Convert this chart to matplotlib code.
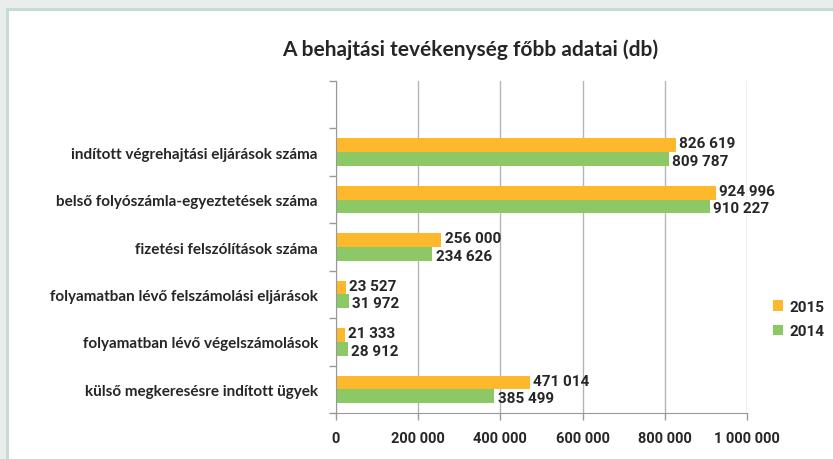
import matplotlib.pyplot as plt
import matplotlib.patches as patches
import numpy as np

plt.rcParams['font.family'] = ['Lato', 'DejaVu Sans']

categories = [
    'indított végrehajtási eljárások száma',
    'belső folyószámla-egyeztetések száma',
    'fizetési felszólítások száma',
    'folyamatban lévő felszámolási eljárások',
    'folyamatban lévő végelszámolások',
    'külső megkeresésre indított ügyek',
]
values_2015 = [826619, 924996, 256000, 23527, 21333, 471014]
values_2014 = [809787, 910227, 234626, 31972, 28912, 385499]
xticks = [0, 200000, 400000, 600000, 800000, 1000000]

ORANGE = '#FDB92B'
GREEN = '#8CC865'
TEXT = '#262626'
NUMFONT = ['Roboto', 'DejaVu Sans']


def fmt(v):
    return f'{v:,}'.replace(',', ' ')


fig = plt.figure(figsize=(8.33, 4.6), dpi=100)
fig.patch.set_facecolor('white')

# outer frame (light band + green-gray border on top and left)
fig.patches.append(patches.Rectangle((0, 1 - 9 / 460), 1, 9 / 460, transform=fig.transFigure,
                                     facecolor='#e9edeb', edgecolor='none', zorder=0))
fig.patches.append(patches.Rectangle((0, 0), 6 / 833, 1, transform=fig.transFigure,
                                     facecolor='#e9edeb', edgecolor='none', zorder=0))
fig.patches.append(patches.Rectangle((6 / 833, 1 - 12 / 460), 1, 3 / 460, transform=fig.transFigure,
                                     facecolor='#c6dbd4', edgecolor='none', zorder=1))
fig.patches.append(patches.Rectangle((6 / 833, 0), 3 / 833, 1 - 9 / 460, transform=fig.transFigure,
                                     facecolor='#c6dbd4', edgecolor='none', zorder=1))

ax = fig.add_axes([336 / 833, 46 / 460, 411 / 833, 332 / 460])

n = len(categories)
# categories top to bottom; one empty band above the first
ypos = np.arange(n)[::-1] + 0.5
h = 0.29
ax.barh(ypos + h / 2, values_2015, height=h, color=ORANGE, label='2015', zorder=2)
ax.barh(ypos - h / 2, values_2014, height=h, color=GREEN, label='2014', zorder=2)

for y, v in zip(ypos, values_2015):
    ax.text(v + 8000, y + h / 2 + 0.04, fmt(v), va='center', ha='left',
            fontsize=11, fontweight='bold', color=TEXT, family=NUMFONT)
for y, v in zip(ypos, values_2014):
    ax.text(v + 8000, y - h / 2 - 0.04, fmt(v), va='center', ha='left',
            fontsize=11, fontweight='bold', color=TEXT, family=NUMFONT)

ax.set_xlim(0, 1000000)
ax.set_ylim(0, n + 1)
ax.set_xticks(xticks)
ax.set_xticklabels([fmt(t) for t in xticks], fontsize=10.5, fontweight='bold', color=TEXT,
                   family=NUMFONT)
ax.set_yticks(np.arange(n + 2))
ax.set_yticklabels([])
ax.set_yticks(ypos, minor=True)
ax.set_yticklabels(categories, minor=True, fontsize=11, fontweight='bold', color=TEXT)
ax.tick_params(axis='y', which='minor', length=0, pad=13)
ax.tick_params(axis='y', which='major', length=5, color='#999999', width=1)
ax.tick_params(axis='x', length=5, color='#999999', width=1, pad=8)

ax.grid(axis='x', color='#b5b5b5', linewidth=1, zorder=0)
for s in ['top', 'right']:
    ax.spines[s].set_visible(False)
for s in ['left', 'bottom']:
    ax.spines[s].set_color('#999999')
ax.spines['left'].set_zorder(3)

fig.text(470 / 833, 1 - 50 / 460, 'A behajtási tevékenység főbb adatai (db)', ha='center', va='center',
         fontsize=15, fontweight='bold', color=TEXT)

fig.legend(loc='center left', bbox_to_anchor=(759 / 833, 1 - 320 / 460), frameon=False,
           prop={'weight': 'bold', 'size': 11, 'family': NUMFONT}, handlelength=0.7,
           handleheight=0.7, handletextpad=0.4, labelspacing=0.7, labelcolor=TEXT)

fig.savefig('out.png', dpi=100)
